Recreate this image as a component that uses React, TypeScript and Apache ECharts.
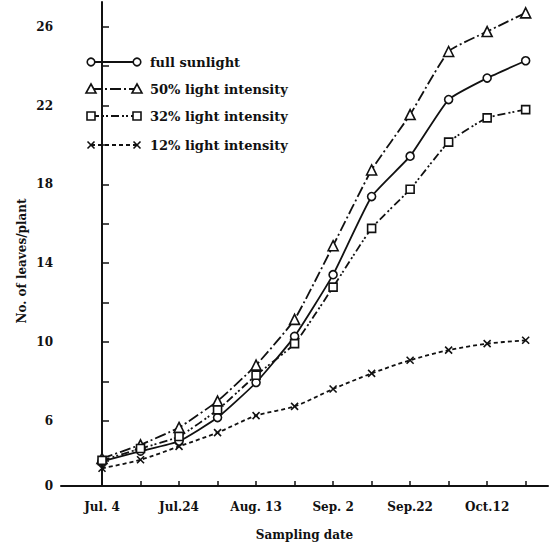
import React, { useEffect, useRef } from "react";
import * as echarts from "echarts";

// Sampling days counted from Jul. 4 (every 10 days)
const sampleDays = [0, 10, 20, 30, 40, 50, 60, 70, 80, 90, 100, 110];
const sampleDates = ["Jul. 4", "Jul. 14", "Jul.24", "Aug. 3", "Aug. 13", "Aug. 23", "Sep. 2", "Sep. 12", "Sep.22", "Oct. 2", "Oct.12", "Oct. 22"];

const fullSunlight = [3.95, 4.47, 4.97, 6.17, 7.95, 10.29, 13.42, 17.38, 19.43, 22.3, 23.39, 24.27];
const light50 = [4.1, 4.79, 5.67, 7.01, 8.83, 11.15, 14.89, 18.73, 21.54, 24.74, 25.75, 26.7];
const light32 = [4.0, 4.6, 5.21, 6.56, 8.32, 9.92, 12.79, 15.77, 17.75, 20.14, 21.37, 21.79];
const light12 = [3.6, 4.03, 4.71, 5.41, 6.27, 6.74, 7.62, 8.41, 9.08, 9.59, 9.92, 10.09];

const seriesNames = ["full sunlight", "50% light intensity", "32% light intensity", "12% light intensity"];

const xTickDays = [0, 10, 20, 30, 40, 50, 60, 70, 80, 90, 100, 110];
const xLabelDays = [0, 20, 40, 60, 80, 100];
const xTickLabels = ["Jul. 4", "Jul.24", "Aug. 13", "Sep. 2", "Sep.22", "Oct.12"];

const yTickValues = [4, 6, 8, 10, 12, 14, 16, 18, 20, 22, 24, 26];
const yLabelValues = [6, 10, 14, 18, 22, 26];
const yBottomLabel = "0";

const Y_MIN = 2.7;
const Y_MAX = 27.25;
const X_MIN = -10.65;
const X_MAX = 115.8;

const FONT = "'DejaVu Serif', 'Liberation Serif', serif";
const INK = "#111";

const xSym = "path://M0 0L10 10M10 0L0 10";

function pairs(vals: number[]) {
  return sampleDays.map((d, i) => [d, vals[i]]);
}

export default function App() {
  const ref = useRef<HTMLDivElement>(null);
  useEffect(() => {
    if (!ref.current) return;
    const chart = echarts.init(ref.current, null, { renderer: "svg" });

    const lineStyles: any[] = [
      { type: "solid" },
      { type: [11, 3, 2, 3] },
      { type: [8, 3, 2, 2, 2, 3] },
      { type: [4, 3] },
    ];
    const symbols = ["circle", "triangle", "rect", xSym];
    const symSizes = [8, 10, 8, 7];
    const datas = [fullSunlight, light50, light32, light12];

    const series = datas.map((d, i) => ({
      name: seriesNames[i],
      type: "line",
      data: pairs(d),
      smooth: i === 3 ? 0.3 : 0.15,
      symbol: symbols[i],
      symbolSize: symSizes[i],
      showSymbol: true,
      lineStyle: { color: INK, width: 1.8, ...lineStyles[i] },
      itemStyle: { color: "#fff", borderColor: INK, borderWidth: 1.6 },
      z: 3 + i,
    }));

    // custom legend
    const rowsY = [62, 89, 116, 145];
    const lx1 = 91;
    const lx2 = 137;
    const legendEls: any[] = [];
    rowsY.forEach((y, i) => {
      legendEls.push({
        type: "line",
        shape: { x1: lx1, y1: y, x2: lx2, y2: y },
        style: { stroke: INK, lineWidth: 1.8, lineDash: i === 0 ? null : (lineStyles[i].type as number[]) },
      });
      [lx1, lx2].forEach((cx) => {
        if (i === 0) {
          legendEls.push({ type: "circle", shape: { cx, cy: y, r: 3.8 }, style: { fill: "#fff", stroke: INK, lineWidth: 1.6 }, z: 10 });
        } else if (i === 1) {
          legendEls.push({ type: "polygon", shape: { points: [[cx, y - 5], [cx + 5, y + 4], [cx - 5, y + 4]] }, style: { fill: "#fff", stroke: INK, lineWidth: 1.6 }, z: 10 });
        } else if (i === 2) {
          legendEls.push({ type: "rect", shape: { x: cx - 4, y: y - 4, width: 8, height: 8 }, style: { fill: "#fff", stroke: INK, lineWidth: 1.6 }, z: 10 });
        } else {
          legendEls.push({ type: "line", shape: { x1: cx - 3.5, y1: y - 3.5, x2: cx + 3.5, y2: y + 3.5 }, style: { stroke: INK, lineWidth: 1.6 }, z: 10 });
          legendEls.push({ type: "line", shape: { x1: cx + 3.5, y1: y - 3.5, x2: cx - 3.5, y2: y + 3.5 }, style: { stroke: INK, lineWidth: 1.6 }, z: 10 });
        }
      });
      legendEls.push({
        type: "text",
        x: 150,
        y,
        style: { text: seriesNames[i], fill: INK, font: `bold 13px ${FONT}`, verticalAlign: "middle", align: "left" },
      });
    });

    legendEls.push({
      type: "text",
      x: 22,
      y: 261,
      rotation: Math.PI / 2,
      style: { text: "No. of leaves/plant", fill: INK, font: `bold 12px ${FONT}`, align: "center", verticalAlign: "middle" },
    });

    chart.setOption({
      animation: false,
      backgroundColor: "#fff",
      grid: { left: 61, right: 4, top: 2, bottom: 58, containLabel: false },
      xAxis: {
        type: "value",
        min: X_MIN,
        max: X_MAX,
        name: "Sampling date",
        nameLocation: "middle",
        nameGap: 43,
        nameTextStyle: { color: INK, fontFamily: FONT, fontWeight: "bold", fontSize: 12 },
        axisLine: { show: true, lineStyle: { color: INK, width: 2 } },
        axisTick: { show: true, inside: true, length: 5, lineStyle: { color: INK, width: 1.5 }, customValues: xTickDays },
        axisLabel: {
          customValues: xLabelDays,
          color: INK,
          fontFamily: FONT,
          fontWeight: "bold",
          fontSize: 12,
          margin: 15,
          formatter: (v: number) => {
            const k = xLabelDays.indexOf(Math.round(v));
            return k >= 0 ? xTickLabels[k] : "";
          },
        },
        splitLine: { show: false },
      },
      yAxis: {
        type: "value",
        min: Y_MIN,
        max: Y_MAX,
        axisLine: { show: true, lineStyle: { color: INK, width: 2 } },
        axisTick: { show: true, inside: true, length: 7, lineStyle: { color: INK, width: 1.5 }, customValues: yTickValues },
        axisLabel: {
          customValues: [Y_MIN, ...yLabelValues],
          color: INK,
          fontFamily: FONT,
          fontWeight: "bold",
          fontSize: 12,
          margin: 8,
          formatter: (v: number) => (Math.abs(v - Y_MIN) < 0.01 ? yBottomLabel : String(v)),
        },
        splitLine: { show: false },
      },
      graphic: legendEls,
      series,
    });

    return () => chart.dispose();
  }, []);

  return (
    <div
      ref={ref}
      style={{ position: "fixed", left: 0, top: 0, width: 552, height: 546, background: "#fff" }}
    />
  );
}
